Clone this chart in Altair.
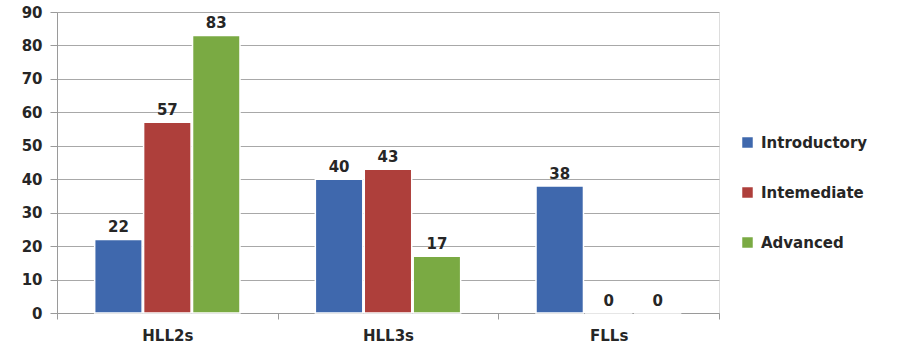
import altair as alt
import pandas as pd

# Survey counts by learner group and course level
groups = ["HLL2s", "HLL3s", "FLLs"]
levels = ["Introductory", "Intemediate", "Advanced"]
introductory = [22, 40, 38]
intermediate = [57, 43, 0]
advanced = [83, 17, 0]

colors = ["#3F68AD", "#AE3F3B", "#7AAA43"]

rows = []
for i, g in enumerate(groups):
    for lvl, series in zip(levels, [introductory, intermediate, advanced]):
        rows.append({"group": g, "level": lvl, "value": series[i]})
df = pd.DataFrame(rows)

FONT = "DejaVu Sans"
TXT = "#262626"

x_enc = alt.X(
    "group:N",
    sort=groups,
    title=None,
    scale=alt.Scale(paddingInner=0, paddingOuter=0),
    axis=alt.Axis(
        labelAngle=0,
        labelFontSize=15,
        labelFont=FONT,
        labelFontWeight="bold",
        labelColor=TXT,
        labelPadding=9,
        tickBand="extent",
        tickSize=6,
        tickColor="#9A9A9A",
        domainColor="#9A9A9A",
        grid=False,
    ),
)
xoff_enc = alt.XOffset(
    "level:N", sort=levels, scale=alt.Scale(paddingInner=0.03, paddingOuter=0.77)
)
y_enc = alt.Y(
    "value:Q",
    title=None,
    scale=alt.Scale(domain=[0, 90], nice=False),
    axis=alt.Axis(
        values=list(range(0, 91, 10)),
        labelOverlap=False,
        labelFontSize=15,
        labelFont=FONT,
        labelFontWeight="bold",
        labelColor=TXT,
        labelPadding=8,
        tickSize=7,
        tickColor="#9A9A9A",
        domainColor="#9A9A9A",
        gridColor="#A8A8A8",
        gridWidth=1,
    ),
)
color_enc = alt.Color(
    "level:N",
    sort=levels,
    scale=alt.Scale(domain=levels, range=colors),
    legend=alt.Legend(
        title=None,
        orient="none",
        legendX=683,
        legendY=123,
        symbolType="square",
        symbolSize=110,
        symbolStrokeWidth=0,
        labelFontSize=15,
        labelFont=FONT,
        labelFontWeight="bold",
        labelColor=TXT,
        rowPadding=34,
        labelOffset=6,
    ),
)

base = alt.Chart(df).encode(x=x_enc, xOffset=xoff_enc, y=y_enc)

bars = base.mark_bar(stroke="white", strokeWidth=1.5).encode(color=color_enc)

labels = base.mark_text(
    dy=-4, fontSize=15, font=FONT, fontWeight="bold", color=TXT, baseline="bottom"
).encode(text=alt.Text("value:Q"))

chart = (
    alt.layer(bars, labels)
    .properties(
        width=662,
        height=301,
        autosize=alt.AutoSizeParams(type="none"),
        padding={"left": 57, "top": 12, "right": 180, "bottom": 39},
    )
    .configure_view(stroke=None)
    .configure(background="white")
)

chart.save("out.html", embed_options={"renderer": "svg", "actions": False})
